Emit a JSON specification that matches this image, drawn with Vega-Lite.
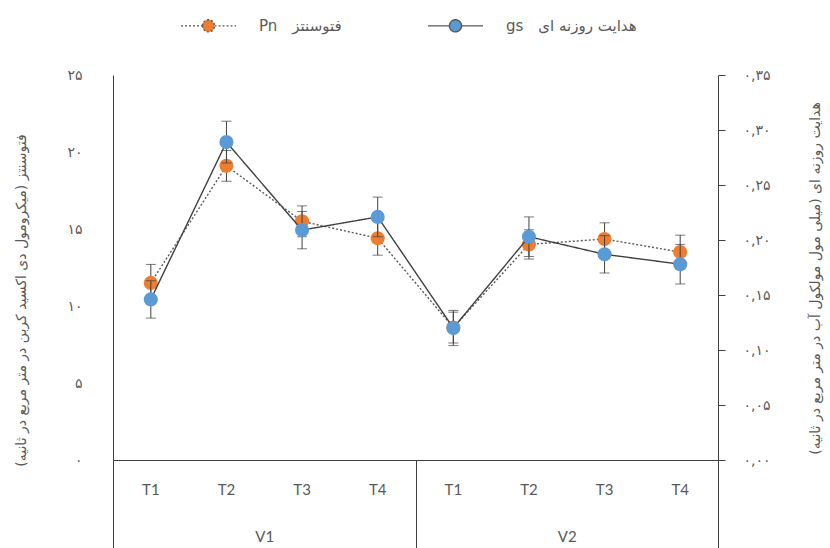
{
  "$schema": "https://vega.github.io/schema/vega-lite/v6.json",
  "width": 605,
  "height": 385,
  "autosize": "none",
  "padding": {"left": 113, "top": 75, "right": 112, "bottom": 88},
  "background": "white",
  "config": {
    "view": {"stroke": null},
    "axis": {"labelFont": "DejaVu Sans", "titleFont": "DejaVu Sans", "titleFontWeight": "normal", "labelColor": "#595959", "titleColor": "#595959", "domainColor": "#404040", "tickColor": "#404040", "grid": false},
    "axisLeft": {
      "ticks": false, "labelPadding": 31, "labelFontSize": 14,
      "labelExpr": "replace(replace(replace(replace(replace(replace(replace(replace(replace(replace(format(datum.value, 'd'), regexp('0', 'g'), '۰'), regexp('1', 'g'), '۱'), regexp('2', 'g'), '۲'), regexp('3', 'g'), '۳'), regexp('4', 'g'), '۴'), regexp('5', 'g'), '۵'), regexp('6', 'g'), '۶'), regexp('7', 'g'), '۷'), regexp('8', 'g'), '۸'), regexp('9', 'g'), '۹')",
      "titleFontSize": 14, "titleAngle": 270, "titleX": -92, "titleY": 225, "titleBaseline": "middle", "titleAlign": "center"
    },
    "axisRight": {
      "tickSize": 7, "labelPadding": 18, "labelFontSize": 14,
      "labelExpr": "replace(replace(replace(replace(replace(replace(replace(replace(replace(replace(replace(format(datum.value, '.2f'), '.', ','), regexp('0', 'g'), '۰'), regexp('1', 'g'), '۱'), regexp('2', 'g'), '۲'), regexp('3', 'g'), '۳'), regexp('4', 'g'), '۴'), regexp('5', 'g'), '۵'), regexp('6', 'g'), '۶'), regexp('7', 'g'), '۷'), regexp('8', 'g'), '۸'), regexp('9', 'g'), '۹')",
      "titleFontSize": 14, "titleAngle": 270, "titleX": 97, "titleY": 203, "titleBaseline": "middle", "titleAlign": "center"
    }
  },
  "data": {
    "values": [
      {"V": "V1", "T": "T1", "cat": "V1|T1", "pn": 11.5, "pnErr": 1.2, "gs": 0.146, "gsErr": 0.017},
      {"V": "V1", "T": "T2", "cat": "V1|T2", "pn": 19.1, "pnErr": 1.0, "gs": 0.289, "gsErr": 0.019},
      {"V": "V1", "T": "T3", "cat": "V1|T3", "pn": 15.5, "pnErr": 1.0, "gs": 0.209, "gsErr": 0.017},
      {"V": "V1", "T": "T4", "cat": "V1|T4", "pn": 14.4, "pnErr": 1.1, "gs": 0.221, "gsErr": 0.018},
      {"V": "V2", "T": "T1", "cat": "V2|T1", "pn": 8.6, "pnErr": 1.0, "gs": 0.120, "gsErr": 0.016},
      {"V": "V2", "T": "T2", "cat": "V2|T2", "pn": 14.0, "pnErr": 0.95, "gs": 0.203, "gsErr": 0.018},
      {"V": "V2", "T": "T3", "cat": "V2|T3", "pn": 14.35, "pnErr": 1.05, "gs": 0.187, "gsErr": 0.017},
      {"V": "V2", "T": "T4", "cat": "V2|T4", "pn": 13.5, "pnErr": 1.1, "gs": 0.178, "gsErr": 0.018}
    ]
  },
  "layer": [
    {
      "encoding": {
        "x": {
          "field": "cat", "type": "nominal",
          "scale": {"domain": ["V1|T1", "V1|T2", "V1|T3", "V1|T4", "V2|T1", "V2|T2", "V2|T3", "V2|T4"]},
          "axis": {"title": null, "ticks": false, "labelAngle": 0, "labelPadding": 22, "labelFont": "Lato", "labelFontSize": 15, "labelExpr": "split(datum.value, '|')[1]"}
        }
      },
      "layer": [
        {
          "encoding": {
            "y": {"field": "pn", "type": "quantitative", "scale": {"domain": [0, 25], "nice": false}, "axis": {"orient": "left", "values": [0, 5, 10, 15, 20, 25], "title": "‏فتوسنتز (میکرومول دی اکسید کربن در متر مربع در ثانیه)‏"}}
          },
          "layer": [
            {
              "mark": {"type": "errorbar", "ticks": {"size": 10}, "color": "#404040", "thickness": 1},
              "encoding": {"yError": {"field": "pnErr"}}
            },
            {
              "mark": {"type": "line", "color": "#595959", "strokeWidth": 1.4},
              "encoding": {
                "strokeDash": {"datum": "Pn", "type": "nominal", "scale": {"domain": ["Pn", "gs"], "range": [[2, 2], [1, 0]]}}
              }
            },
            {
              "mark": {"type": "point", "filled": true, "size": 200, "opacity": 1},
              "encoding": {
                "fill": {
                  "datum": "Pn", "type": "nominal",
                  "scale": {"domain": ["Pn", "gs"], "range": ["#ED7D31", "#5B9BD5"]},
                  "legend": {
                    "orient": "none", "legendX": 67, "legendY": -78, "direction": "horizontal", "title": null, "padding": 0,
                    "symbolType": "M-1,0L-0.22,0M0.22,0L1,0M-0.22,0A0.22,0.22,0,1,1,0.22,0A0.22,0.22,0,1,1,-0.22,0Z",
                    "symbolSize": 3025, "symbolStrokeColor": "#595959", "symbolStrokeWidth": 1.4,
                    "labelExpr": "datum.value == 'Pn' ? 'Pn\u2003فتوسنتز' : 'gs\u2003هدایت روزنه ای'",
                    "labelFont": "DejaVu Sans", "labelFontSize": 15, "labelColor": "#595959", "labelOffset": 22, "columnPadding": 83
                  }
                }
              }
            }
          ]
        },
        {
          "encoding": {
            "y": {"field": "gs", "type": "quantitative", "scale": {"domain": [0, 0.35], "nice": false}, "axis": {"orient": "right", "values": [0, 0.05, 0.1, 0.15, 0.2, 0.25, 0.3, 0.35], "title": "‏هدایت روزنه ای (میلی مول مولکول آب در متر مربع در ثانیه)‏"}}
          },
          "layer": [
            {
              "mark": {"type": "errorbar", "ticks": {"size": 10}, "color": "#404040", "thickness": 1},
              "encoding": {"yError": {"field": "gsErr"}}
            },
            {
              "mark": {"type": "line", "color": "#404040", "strokeWidth": 1.4},
              "encoding": {
                "strokeDash": {"datum": "gs", "type": "nominal"}
              }
            },
            {
              "mark": {"type": "point", "filled": true, "size": 200, "opacity": 1},
              "encoding": {"fill": {"datum": "gs", "type": "nominal"}}
            }
          ]
        }
      ],
      "resolve": {"scale": {"y": "independent"}}
    },
    {
      "mark": {"type": "point", "opacity": 0},
      "encoding": {
        "x": {
          "field": "V", "type": "nominal",
          "scale": {"type": "band", "domain": ["V1", "V2"], "paddingInner": 0, "paddingOuter": 0},
          "axis": {"orient": "bottom", "title": null, "domain": false, "tickBand": "extent", "tickSize": 88, "labelPadding": -19, "labelAngle": 0, "labelFont": "Lato", "labelFontSize": 15}
        }
      }
    }
  ],
  "resolve": {"scale": {"x": "independent"}}
}
